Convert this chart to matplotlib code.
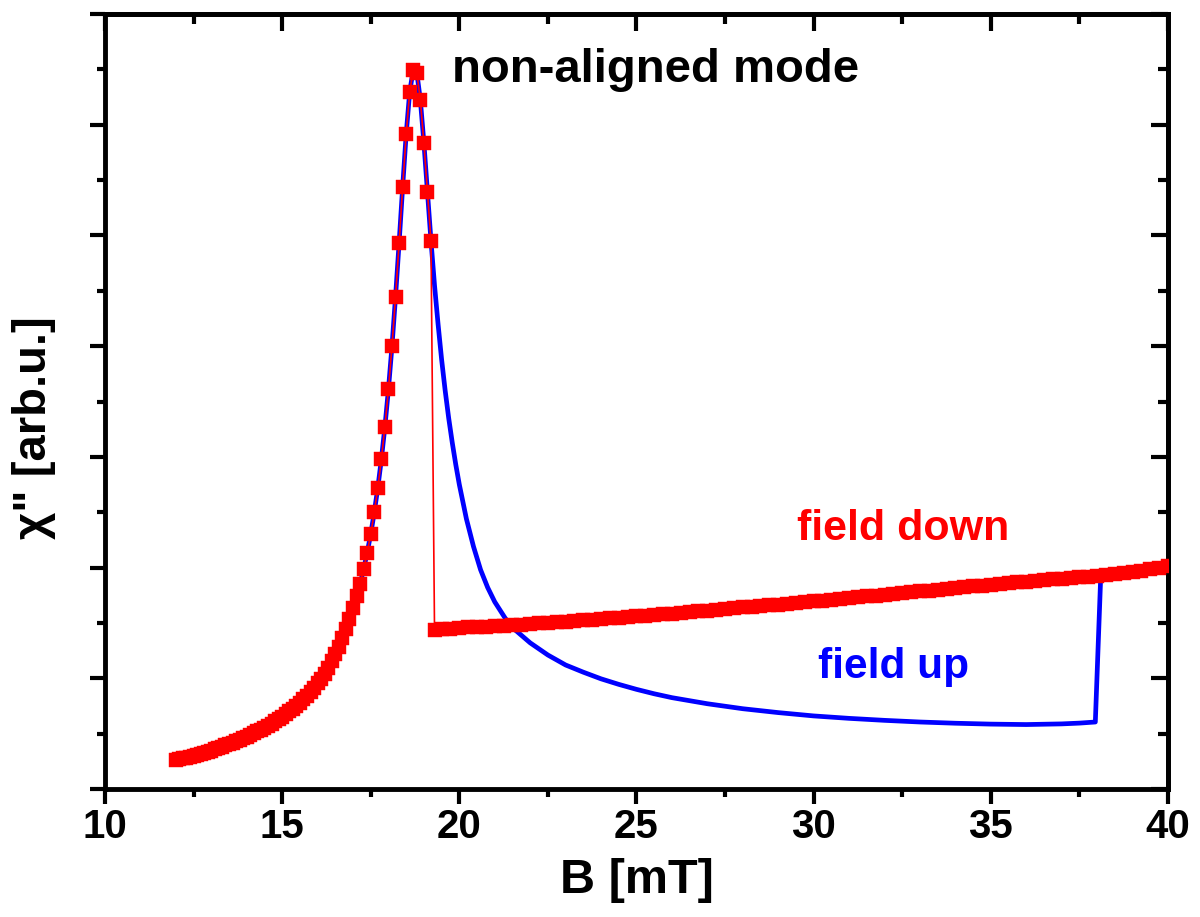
import matplotlib
matplotlib.use('Agg')
import matplotlib.pyplot as plt
import numpy as np
from matplotlib.ticker import MultipleLocator, NullFormatter

plt.rcParams['font.family'] = ['Liberation Sans', 'DejaVu Sans']
plt.rcParams['font.weight'] = 'bold'

# resonance peak, sampled every 0.1 mT (shared by both sweep directions)
B_peak = np.round(np.arange(12.0, 19.25, 0.1), 1)
chi_peak = [
    0.260, 0.268, 0.276, 0.284, 0.292, 0.300, 0.309, 0.318, 0.327, 0.337,
    0.347, 0.358, 0.369, 0.381, 0.393, 0.406, 0.419, 0.432, 0.446, 0.460,
    0.474, 0.489, 0.504, 0.520, 0.536, 0.553, 0.571, 0.590, 0.610, 0.631,
    0.653, 0.676, 0.700, 0.725, 0.752, 0.780, 0.810, 0.842, 0.876, 0.913,
    0.953, 0.996, 1.043, 1.095, 1.152, 1.215, 1.285, 1.362, 1.446, 1.538,
    1.636, 1.740, 1.855, 1.985, 2.135, 2.304, 2.500, 2.722, 2.978, 3.273,
    3.613, 4.002, 4.447, 4.930, 5.435, 5.914, 6.299, 6.495, 6.471, 6.224,
    5.838, 5.396, 4.953,
]

# field down: jump at 19.3 mT, then slowly rising background
B_down_tail = np.concatenate([[19.3], np.arange(19.5, 40.01, 0.25)])
chi_down_tail = [
    1.440,
    1.444, 1.449, 1.455, 1.459, 1.462, 1.466, 1.470, 1.475, 1.480, 1.485,
    1.490, 1.495, 1.500, 1.505, 1.510, 1.516, 1.522, 1.529, 1.535, 1.541,
    1.547, 1.554, 1.560, 1.566, 1.572, 1.579, 1.585, 1.591, 1.597, 1.604,
    1.610, 1.617, 1.625, 1.632, 1.640, 1.646, 1.652, 1.659, 1.665, 1.672,
    1.680, 1.687, 1.695, 1.702, 1.710, 1.717, 1.725, 1.732, 1.740, 1.747,
    1.755, 1.762, 1.770, 1.777, 1.785, 1.792, 1.800, 1.807, 1.815, 1.822,
    1.830, 1.837, 1.845, 1.852, 1.859, 1.866, 1.873, 1.880, 1.887, 1.894,
    1.900, 1.906, 1.912, 1.918, 1.925, 1.934, 1.942, 1.951, 1.960, 1.972,
    1.985, 1.997, 2.010,
]

# field up: smooth decay after the peak, switching at ~38 mT
B_up_tail = [19.3, 19.4, 19.5, 19.6, 19.7, 19.8, 19.9, 20.0, 20.2, 20.4,
             20.6, 20.8, 21.0, 21.3, 21.6, 22.0, 22.5, 23.0, 23.5, 24.0,
             24.5, 25.0, 25.5, 26.0, 27.0, 28.0, 29.0, 30.0, 31.0, 32.0,
             33.0, 34.0, 35.0, 36.0, 37.0, 37.5, 37.95, 38.1]
chi_up_tail = [4.55, 4.20, 3.88, 3.60, 3.35, 3.13, 2.93, 2.75, 2.44, 2.19,
               1.98, 1.82, 1.69, 1.54, 1.43, 1.32, 1.21, 1.12, 1.055, 0.995,
               0.945, 0.90, 0.86, 0.825, 0.77, 0.725, 0.69, 0.66, 0.638, 0.62,
               0.605, 0.594, 0.586, 0.582, 0.588, 0.595, 0.605, 1.90]

B_down = np.concatenate([B_peak, B_down_tail])
chi_down = np.concatenate([chi_peak, chi_down_tail])
B_up = np.concatenate([B_peak, B_up_tail])
chi_up = np.concatenate([chi_peak, chi_up_tail])

fig = plt.figure(figsize=(12, 9.17), dpi=100)
ax = fig.add_axes([0.0875, 0.1396, 0.8858, 0.8451])

ax.plot(B_up, chi_up, color='#0000ff', lw=3.4, zorder=2)
ax.plot(B_down, chi_down, color='#ff0000', lw=1.2, marker='s', ms=9.6,
        mec='#ff0000', mfc='#ff0000', mew=0.3, zorder=3)

ax.text(19.79, 6.39, 'non-aligned mode', fontsize=34, fontweight='bold',
        color='black', ha='left', va='baseline')
ax.text(29.52, 2.25, 'field down', fontsize=31, fontweight='bold',
        color='#ff0000', ha='left', va='baseline')
ax.text(30.11, 1.0, 'field up', fontsize=30.5, fontweight='bold',
        color='#0000ff', ha='left', va='baseline')

ax.set_xlim(10, 40)
ax.set_ylim(0, 7)
ax.xaxis.set_major_locator(MultipleLocator(5))
ax.xaxis.set_minor_locator(MultipleLocator(2.5))
ax.yaxis.set_major_locator(MultipleLocator(1))
ax.yaxis.set_minor_locator(MultipleLocator(0.5))
ax.yaxis.set_major_formatter(NullFormatter())

for sp in ax.spines.values():
    sp.set_linewidth(3.5)

ax.tick_params(which='both', direction='out', width=3, labelsize=29, pad=3)
ax.tick_params(which='major', length=11)
ax.tick_params(which='minor', length=6)

# top and right ticks point inward
top = ax.secondary_xaxis('top')
top.xaxis.set_major_locator(MultipleLocator(5))
top.xaxis.set_minor_locator(MultipleLocator(2.5))
top.tick_params(which='both', direction='in', width=3, labeltop=False)
top.tick_params(which='major', length=12)
top.tick_params(which='minor', length=7)
right = ax.secondary_yaxis('right')
right.yaxis.set_major_locator(MultipleLocator(1))
right.yaxis.set_minor_locator(MultipleLocator(0.5))
right.tick_params(which='both', direction='in', width=3, labelright=False)
right.tick_params(which='major', length=12)
right.tick_params(which='minor', length=7)
for s in (top, right):
    for sp in s.spines.values():
        sp.set_linewidth(3.5)

ax.set_xlabel('B [mT]', fontsize=35, fontweight='bold', labelpad=8)
ax.set_ylabel('χ" [arb.u.]', fontsize=34, fontweight='bold')
ax.yaxis.set_label_coords(-0.046, 0.466)

fig.savefig('out.png', dpi=100)
